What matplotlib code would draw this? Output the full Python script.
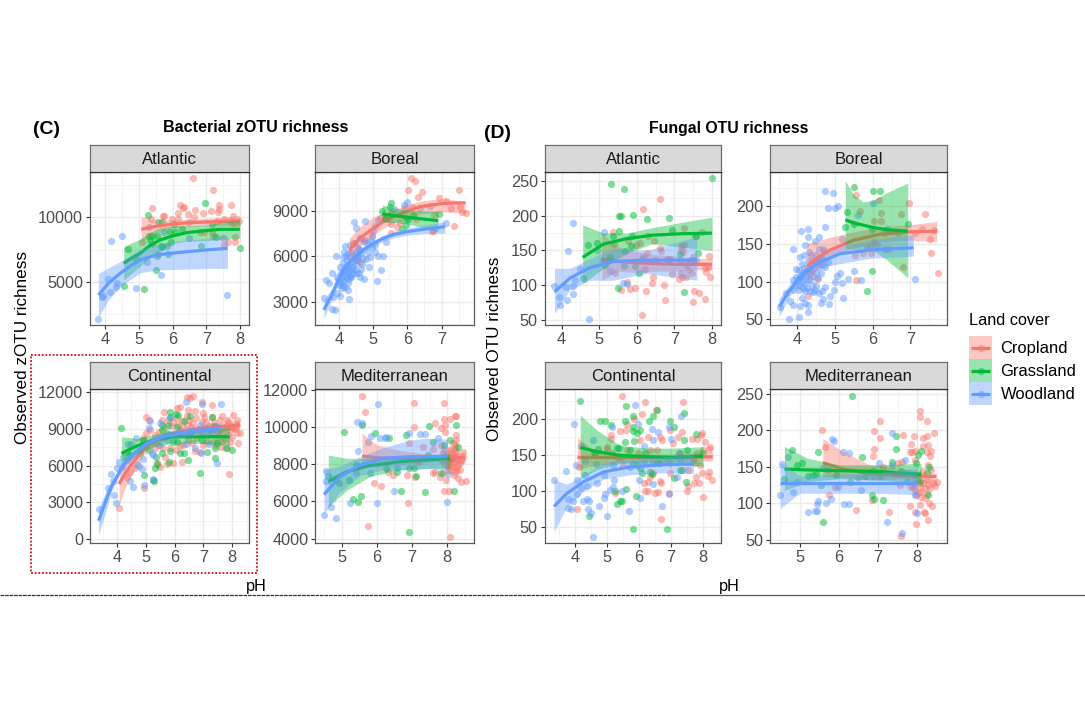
import matplotlib
matplotlib.use('Agg')
import matplotlib.pyplot as plt
from matplotlib.patches import Rectangle
from matplotlib.ticker import AutoMinorLocator

plt.rcParams['font.family'] = ['Liberation Sans', 'DejaVu Sans']

CROP = '#F8766D'
GRASS = '#00BA38'
WOOD = '#619CFF'

# points are (pH, richness), fits are (pH, fit, lower, upper)
c_atl_wood = [(3.8,2130),(3.92,3810),(3.95,3900),(4.13,4250),(4.09,5200),(4.34,4890),(4.31,4630),(4.17,8170),(4.49,8530),(4.93,4530),(5.24,6540),(5.3,9230),(5.65,5560),(5.74,8890),(6.49,8370),(7.63,4020)]
c_atl_grass = [(4.69,7520),(4.55,4710),(4.93,6750),(5.15,4480),(5.27,10150),(5.5,5900),(5.53,7000),(5.31,8560),(5.38,8560),(5.33,8250),(5.54,8530),(5.57,9660),(5.69,9640),(5.67,7780),(5.68,7700),(5.87,7190),(5.85,7760),(5.94,8120),(5.92,8860),(6.07,8840),(6.03,9480),(6.29,9100),(6.85,7760),(6.96,11080),(7.16,9510),(7.28,8480),(8.0,7650)]
c_atl_crop = [(6.62,13020),(7.19,12090),(5.39,10750),(5.08,8060),(5.36,9850),(5.75,10100),(5.72,10130),(5.98,9870),(6.22,10930),(6.3,10720),(6.34,10770),(6.17,10310),(6.16,9850),(6.45,10260),(6.66,10570),(6.64,10050),(6.49,9640),(6.89,10310),(7.14,10460),(7.39,10980),(7.38,10670),(7.34,10440),(7.73,10980),(7.8,10130),(7.52,9850),(7.31,9720),(7.7,9740),(7.98,9740),(7.8,9530),(7.16,8890),(7.19,8560),(6.81,8890),(6.92,8890),(7.5,8370),(7.85,8500),(7.85,8120),(7.65,8060),(7.52,7860),(5.57,7200),(5.4,7900)]
c_atl_crop_fit = [(5.07,9070,8100,10050),(5.5,9300,8800,9780),(6.0,9480,9150,9800),(6.5,9580,9300,9850),(7.0,9640,9350,9920),(7.5,9680,9350,10000),(8.0,9730,9300,10150)]
c_atl_grass_fit = [(4.55,6440,5150,7730),(4.8,6870,5700,8050),(5.03,7200,6200,8300),(5.3,7760,6800,8800),(5.62,8240,7350,9200),(6.0,8550,7990,9330),(6.41,8810,8150,9350),(7.0,8980,8190,9400),(7.4,9070,8300,9600),(8.0,9070,8370,9800)]
c_atl_wood_fit = [(3.8,3990,2300,5660),(4.1,4900,3600,6100),(4.44,5660,4630,6570),(4.75,6240,5200,7050),(5.03,6690,5700,7500),(5.35,6960,5850,7800),(5.72,7160,5950,8000),(6.42,7340,5990,8250),(7.0,7480,6050,8370),(7.63,7600,6050,8630)]

c_bor_wood = [(3.55,3240),(3.6,4430),(3.71,4210),(3.78,2510),(3.87,2450),(3.8,4870),(3.91,6020),(3.94,3600),(3.82,3330),(4.02,3380),(4.28,3200),(4.44,8270),(4.48,7870),(4.76,8360),(4.18,6680),(4.15,6310),(4.31,6750),(4.46,6860),(4.61,7190),(4.65,7190),(4.73,6970),(4.96,7300),(5.0,7680),(5.04,8030),(5.15,8430),(5.36,6970),(5.28,6040),(5.11,4390),(5.23,5070),(4.86,5270),(4.72,4520),(4.61,4650),(4.58,4870),(4.64,5140),(4.9,5980),(5.05,6310),(5.14,6040),(5.05,6750),(4.82,6970),(5.61,9110),(5.91,9400),(6.0,9620),(6.37,9180),(6.66,9330),(7.12,8210),
              (3.97,4430),(4.02,4210),(4.07,4650),(4.12,5090),(4.17,5320),(4.1,5540),(4.02,5320),(4.22,5760),(4.26,6200),(4.31,5980),(4.36,5540),(4.41,5320),(4.46,5090),(4.51,5760),(4.56,5980),(4.61,6420),(4.65,6200),(4.7,5870),(4.22,4650),(4.26,4210),(4.17,3990),(4.07,3880),(3.99,4100),(3.94,4650),(4.26,4870),(4.36,4650),(4.31,5320),(4.46,6200),(4.51,6640),(4.12,5980),
              (4.05,4900),(4.09,4350),(4.14,4750),(4.19,5050),(4.24,5450),(4.28,5100),(4.33,4700),(4.38,5100),(4.43,5700),(4.48,5500),(4.53,6100),(4.58,6500),(4.34,6300),(4.2,6000),(4.15,4400),(4.3,4500),(4.1,4000),(4.25,3800),(4.4,4800),(4.5,4900),(4.68,5500),(4.78,5800),(4.85,6300),(4.95,6600),(4.92,7000)]
c_bor_grass = [(5.26,9020),(5.52,9510),(5.5,9290),(5.34,8470),(5.36,8510),(5.85,7790),(5.97,8070),(6.02,8450),(6.17,8760),(6.92,8800),(5.97,8510)]
c_bor_crop = [(6.1,11160),(6.22,10990),(6.03,10390),(6.42,10260),(6.32,9950),(7.51,10410),(6.93,9840),(7.12,9660),(7.28,9180),(7.54,9290),(7.59,8910),(7.71,8870),(7.36,8030),(6.76,7700),(6.73,7680),(6.78,8740),(6.25,8470),(6.12,9290),(5.94,9180),(5.78,8180),(5.68,7920),(5.53,8140),(5.52,7520),(4.51,5760),(4.61,5650),(5.19,8510),(5.53,8850),(5.39,8560),(4.95,7410),(4.75,7080),(4.41,6860)]
c_bor_crop_fit = [(4.3,6400,5760,7190),(4.6,7200,6650,7950),(5.0,7850,7410,8620),(5.3,8300,7850,8850),(5.58,8620,8200,9050),(6.0,9000,8510,9400),(6.37,9290,8800,9650),(7.05,9500,8950,9840),(7.7,9550,8850,9620)]
c_bor_grass_fit = [(5.26,8800,8300,9400),(5.6,8700,8230,9230),(6.0,8580,8140,9070),(6.45,8470,7900,9000),(6.9,8360,7630,8960)]
c_bor_wood_fit = [(3.55,2450,1900,3100),(3.78,3440,3050,3850),(4.02,4650,4480,4820),(4.15,5170,5000,5340),(4.31,5650,5480,5820),(4.5,6060,5870,6250),(4.7,6420,6220,6620),(5.0,6850,6650,7050),(5.29,7190,7000,7380),(5.6,7440,7220,7650),(5.97,7630,7400,7850),(6.5,7800,7500,8080),(7.1,7960,7520,8290)]

c_con_wood = [(3.36,2440),(3.7,4140),(3.79,5310),(3.9,3600),(3.97,2920),(3.87,4740),(3.99,5820),(4.06,6310),(4.16,5900),(4.22,6720),(4.34,6450),(4.39,7750),(4.47,7750),(4.65,8230),(4.45,4740),(4.57,4250),(4.68,6120),(4.77,5980),(4.88,5710),(4.91,6530),(4.94,4410),(5.12,9020),(5.14,9620),(5.2,7000),(5.26,6850),(5.23,4880),(5.49,9430),(5.49,7670),(6.38,11130),(6.94,11000),(7.61,11030),(7.46,6180),(7.19,7770),(6.91,6990),(6.7,7390),(6.39,7750),(6.13,8610),(5.84,9890),(6.53,8750),(6.88,9290),(7.23,8880),(7.34,9020),(5.84,8480),(5.72,8070),(6.42,8480),(6.97,8750)]
c_con_grass = [(4.15,9050),(4.94,5230),(5.28,4770),(5.24,4840),(5.32,5770),(5.4,6120),(5.35,6660),(5.56,7040),(5.79,6260),(5.84,7180),(6.18,6990),(6.34,7040),(6.45,6450),(6.88,5360),(7.39,6580),(7.4,7390),(7.77,7390),(8.0,7230),(7.46,7800),(7.11,7120),(7.38,9210),(7.29,9970),(6.53,10020),(6.34,9620),(5.84,10370),(5.84,9970),(6.05,10160),(6.13,10100),(5.78,9290),(6.07,9150),(5.55,8880),(5.72,8610),(5.95,7940),(6.07,7940),(6.59,8800),(6.94,8070),(4.91,8070),(5.12,7260),(4.8,6990),(4.45,6850),(4.34,7120),(5.55,9290)]
c_con_crop = [(4.07,2520),(4.94,4200),(4.99,9970),(5.12,9700),(5.0,8610),(4.91,8210),(5.3,8480),(5.55,9700),(5.64,10370),(6.07,10650),(6.18,10750),(6.42,11590),(6.53,11510),(6.62,11650),(6.45,10510),(6.7,10430),(6.42,10020),(6.96,11130),(7.31,10940),(6.99,10240),(7.03,9970),(7.28,9970),(7.63,10020),(8.03,10100),(8.15,9700),(7.86,9510),(7.57,9700),(8.17,9290),(8.27,8610),(8.15,8610),(8.2,7800),(7.92,7940),(7.88,5280),(7.8,7390),(7.63,7940),(7.86,8480),(7.69,8750),(7.51,8340),(8.03,9020),(7.92,8880),(7.34,7940),(7.11,7940),(6.88,7120),(6.7,7180),(6.59,7800),(6.3,7670),(6.24,6310),(5.95,6180),(5.72,6120),(5.49,5900),(5.38,6180),(5.66,6720),(5.43,7670),(5.32,7390),(5.55,8210),(4.62,5770),(4.45,5500),(4.34,5090),(5.99,8480),(6.18,8880),(6.42,9290),(6.65,9430),(7.05,9020),(6.88,8610),(6.07,9830),(5.78,9700),
              (5.45,8750),(5.62,9150),(5.7,8400),(5.88,9250),(5.95,9550),(6.1,9300),(6.25,9650),(6.3,9050),(6.5,9700),(6.55,9150),(6.75,9900),(6.8,8950),(6.95,9550),(7.1,9500),(7.2,9250),(7.35,9500),(7.45,9250),(7.55,8900),(7.75,9150),(7.8,9700),(7.95,9200),(8.1,8950),(7.15,8500),(7.3,8650),(7.45,7650),(7.6,7500),(7.0,7700),(6.75,8250),(6.45,8150),(6.2,7600),(6.05,7250),(5.85,7450),(5.6,7400),(5.25,7950),(5.15,8900),(7.7,8150),(8.0,8350),(7.5,8700)]
c_con_crop_fit = [(4.07,4500,2790,5630),(4.3,5450,4300,6250),(4.57,6310,5500,6850),(4.9,7250,6800,7650),(5.26,7930,7550,8300),(5.6,8350,8050,8650),(6.07,8670,8370,8970),(7.0,9020,8720,9320),(7.6,9180,8800,9500),(8.25,9290,8880,9700)]
c_con_grass_fit = [(4.15,6990,5900,8340),(4.68,7580,6850,8200),(5.26,8070,7530,8530),(5.95,8340,7800,8800),(6.88,8340,7800,8880),(7.9,8340,7670,9150)]
c_con_wood_fit = [(3.36,1510,350,2520),(3.64,3330,2500,4050),(3.8,4270,3850,4700),(3.99,5090,4790,5390),(4.2,5950,5650,6250),(4.45,6720,6400,7020),(4.75,7300,7000,7600),(5.03,7800,7500,8100),(5.35,8130,7800,8450),(5.72,8420,8070,8770),(6.65,8800,8400,9150),(7.6,9020,8610,9430)]

c_med_wood = [(4.51,5290),(4.55,7660),(4.55,7120),(4.69,5720),(4.84,5130),(5.23,5920),(5.41,7550),(5.47,8720),(5.44,10300),(5.58,10200),(5.8,7510),(5.82,9520),(5.75,9220),(6.0,5920),(6.04,11230),(6.1,9400),(6.23,9430),(6.27,9490),(6.5,6550),(6.58,7780),(6.91,9700),(7.22,9630),(7.36,9630),(7.74,9400),(8.0,5990),(8.02,7480)]
c_med_grass = [(5.08,9720),(4.61,7390),(4.81,7190),(4.93,6980),(5.21,7170),(5.42,7960),(5.33,6130),(5.46,5970),(5.55,6300),(5.58,10130),(5.94,9670),(6.27,7780),(6.35,9430),(6.58,7600),(6.7,6580),(6.84,9580),(6.9,7820),(6.9,4340),(7.05,7820),(7.12,7390),(7.38,6490),(7.47,10060),(7.45,8500),(7.59,9220),(7.83,7510),(7.92,9040),(8.07,9310),(8.25,10120),(8.19,6550),(8.08,8320),(8.3,8910)]
c_med_crop = [(5.58,11680),(5.65,10820),(5.75,4700),(5.92,7010),(6.13,6850),(6.32,7600),(6.46,7410),(6.87,7440),(6.88,5900),(6.91,9130),(7.05,9990),(7.05,11280),(7.09,7330),(7.17,8110),(7.31,8910),(7.59,7550),(7.66,10240),(7.83,9970),(7.91,11280),(7.91,10420),(8.08,10440),(8.25,10620),(8.21,10620),(7.95,10120),(8.25,9580),(7.95,9720),(8.07,4070),(7.91,6560),(8.04,6560),(7.97,7160),(7.79,7330),(7.64,7570),(7.88,7510),(8.38,7070),(8.52,7080),(8.32,7280),(8.44,8680),(8.46,8380),(8.25,9310),(7.83,9040),(7.59,8810),(8.21,9040),
              (7.88,8590),(7.97,8410),(8.07,8230),(8.16,8050),(8.25,7870),(8.35,7690),(8.11,8770),(8.21,8590),(8.3,8410),(8.4,8230),(8.02,7870),(7.92,8050),(7.83,8230),(8.11,7690),(8.21,7600),(8.07,8770),(7.92,8770),(8.16,9130),(8.35,8050),(8.25,8230),(8.16,8410),(8.07,7960),(8.21,8860),
              (8.0,8500),(8.1,8350),(8.2,8150),(8.3,7950),(8.15,7850),(8.05,8050),(7.98,8250),(8.12,8600),(8.26,8700),(8.02,7700),(8.18,7450),(8.28,7700)]
c_med_crop_fit = [(5.58,8450,7950,9670),(6.0,8350,7850,9050),(6.5,8330,7950,8800),(7.0,8320,8020,8650),(7.5,8330,8120,8540),(8.0,8350,8220,8500),(8.5,8370,8020,8680)]
c_med_grass_fit = [(4.62,7070,5720,8500),(5.14,7600,6600,8320),(5.8,7930,7340,8320),(6.65,8140,7700,8400),(7.41,8230,7780,8500),(8.07,8320,7780,8590)]
c_med_wood_fit = [(4.5,6380,5360,7700),(4.95,7340,6500,7900),(5.52,7960,7400,8400),(6.18,8320,7700,8900),(6.93,8410,7700,9300),(7.4,8410,7780,9400),(8.0,8440,7700,9350)]

d_atl_wood = [(3.81,99),(3.94,83),(3.96,71),(4.12,97),(4.14,79),(4.3,99),(4.29,87),(4.35,108),(4.31,189),(4.18,149),(4.49,123),(4.73,51),(5.12,177),(4.93,150),(5.3,120),(5.64,103),(5.75,102),(6.14,138),(6.48,136),(6.86,136),(7.14,136),(7.5,136),(7.58,136)]
d_atl_grass = [(5.31,246),(5.67,238),(5.52,199),(5.58,199),(5.9,201),(5.54,178),(6.27,196),(6.85,197),(6.95,180),(7.99,254),(4.69,158),(4.95,160),(5.28,141),(5.27,136),(5.37,171),(5.15,129),(4.56,110),(5.5,96),(5.66,128),(5.68,149),(5.84,156),(5.88,171),(5.95,128),(6.06,117),(7.14,145),(7.26,90),(7.58,171),(7.64,146)]
d_atl_crop = [(6.61,224),(6.17,210),(5.37,177),(7.27,182),(7.73,177),(7.56,171),(5.11,136),(5.39,159),(5.42,118),(5.59,93),(5.81,94),(5.95,96),(5.73,105),(5.77,164),(5.99,158),(6.08,160),(6.26,146),(6.17,141),(6.21,123),(6.3,171),(6.46,163),(6.42,112),(6.41,103),(6.24,91),(6.15,57),(6.63,153),(6.65,149),(6.73,100),(6.75,79),(6.8,137),(6.88,137),(6.93,116),(7.12,109),(7.17,117),(7.19,156),(7.27,158),(7.19,150),(7.23,148),(7.21,111),(7.32,111),(7.36,122),(7.47,118),(7.5,141),(7.41,136),(7.32,131),(7.52,91),(7.65,89),(7.51,76),(7.82,80),(7.85,119),(7.89,126),(7.91,142),(7.96,111),(7.81,125)]
d_atl_crop_fit = [(5.07,137,107,175),(5.5,134,120,155),(6.0,132,118,148),(6.5,131,120,144),(7.0,130,120,142),(7.5,130,122,139),(8.0,130,122,138)]
d_atl_grass_fit = [(4.56,140,102,187),(5.11,159,124,175),(5.73,167,146,175),(6.43,172,160,183),(7.14,174,155,190),(8.0,175,150,198)]
d_atl_wood_fit = [(3.81,90,59,124),(4.22,110,93,124),(4.75,125,107,138),(5.37,134,107,153),(6.26,136,117,150),(7.6,136,107,170)]

d_bor_wood = [(3.54,66),(3.78,51),(4.04,53),(4.27,60),(3.7,85),(3.81,74),(3.87,69),(4.07,68),(3.89,143),(4.1,167),(4.27,170),(4.27,159),(4.2,148),(4.73,220),(4.95,218),(4.8,198),(5.0,198),(5.09,200),(4.73,173),(4.58,159),(4.47,154),(4.56,144),(4.67,143),(5.18,156),(4.07,133),(4.18,135),(4.32,140),(4.62,133),(4.71,141),(3.96,117),(4.04,115),(4.12,124),(4.25,115),(4.34,111),(4.42,129),(4.5,126),(4.56,120),(4.73,120),(4.82,126),(3.89,102),(3.98,96),(4.03,104),(4.12,100),(4.2,98),(4.29,102),(4.38,96),(4.47,89),(4.56,85),(4.65,87),(4.73,93),(4.87,81),(4.96,89),(4.62,71),(4.69,77),(4.85,70),(5.22,78),(4.2,72),(4.29,69),(4.12,78),(5.0,99),(5.04,107),(5.13,111),(5.18,98),(5.35,103),(5.49,114),(5.69,102),(6.02,204),(5.62,189),(6.37,170),(6.68,164),(7.12,104),(4.12,111),(4.03,89),(3.89,89),(4.2,87),(4.38,115),
              (4.08,106),(4.16,107),(4.24,108),(4.33,104),(4.42,108),(4.5,112),(4.55,105),(4.62,112),(4.68,122),(4.36,122),(4.28,128),(4.18,118),(4.08,94),(4.26,91),(4.34,88),(4.42,86),(4.5,94),(4.15,92),(3.95,106),(4.36,135),(4.5,135),(4.6,128)]
d_bor_grass = [(5.5,226),(6.02,220),(6.19,220),(5.32,193),(5.27,172),(5.51,177),(5.99,170),(6.93,176),(5.99,114),(5.84,87)]
d_bor_crop = [(5.55,215),(6.17,209),(6.95,204),(5.66,194),(6.21,191),(6.21,181),(6.04,180),(6.75,190),(7.38,190),(7.3,170),(7.63,169),(7.12,165),(7.52,156),(7.54,138),(7.72,112),(6.8,119),(5.56,102),(5.53,135),(5.73,138),(5.84,146),(5.93,147),(5.96,138),(6.04,153),(6.12,148),(6.33,143),(6.43,144),(6.31,164),(4.51,104),(4.29,81)]
d_bor_crop_fit = [(4.25,120,102,151),(4.55,132,117,154),(4.87,142,131,159),(5.49,155,144,166),(6.19,163,153,173),(6.9,166,155,175),(7.7,167,153,180)]
d_bor_grass_fit = [(5.27,182,144,234),(5.5,178,143,215),(5.75,175,143,206),(6.0,172,142,208),(6.37,169,129,218),(6.93,167,105,231)]
d_bor_wood_fit = [(3.52,67,54,78),(3.8,89,81,97),(4.16,111,105,117),(4.6,126,119,133),(5.13,137,124,147),(5.93,142,131,155),(7.08,145,134,162)]

d_con_wood = [(3.34,116),(3.72,128),(3.78,77),(3.86,76),(3.79,90),(3.95,87),(3.98,194),(4.02,136),(4.05,116),(4.05,96),(4.19,163),(4.19,105),(4.31,142),(4.36,107),(4.31,123),(4.26,86),(4.36,90),(4.45,86),(4.39,75),(4.49,70),(4.57,171),(4.65,138),(4.68,111),(4.76,80),(4.55,37),(4.89,91),(4.94,96),(4.91,122),(5.0,66),(5.09,102),(5.2,136),(5.22,116),(5.2,106),(5.15,190),(5.46,100),(5.67,73),(5.88,220),(5.96,194),(5.99,116),(6.03,91),(6.14,163),(6.39,186),(6.58,183),(6.42,171),(6.42,110),(6.71,80),(6.92,96),(6.95,190),(7.0,173),(7.18,120),(7.32,205),(7.26,153),(7.28,144),(6.14,139),(5.72,134),(6.86,144)]
d_con_grass = [(4.16,225),(5.58,219),(5.8,205),(4.78,197),(4.94,197),(5.11,192),(4.72,159),(4.63,152),(4.58,153),(4.42,66),(5.25,100),(5.32,82),(5.41,86),(5.46,87),(5.58,103),(5.82,47),(5.89,94),(6.86,47),(5.3,160),(5.38,160),(5.56,197),(5.56,169),(5.72,157),(5.8,190),(5.82,184),(5.93,181),(6.03,185),(5.84,170),(5.8,138),(5.93,137),(6.03,132),(6.09,126),(6.34,127),(6.4,124),(6.19,153),(6.32,198),(6.45,205),(6.55,213),(6.6,139),(6.97,197),(7.09,189),(7.39,209),(7.39,171),(7.28,129),(7.33,129),(7.46,113),(7.09,118),(7.77,179),(7.51,157),(7.99,153)]
d_con_crop = [(5.46,232),(6.18,224),(7.37,224),(6.53,213),(6.1,208),(5.84,201),(5.61,194),(5.41,184),(5.59,185),(5.13,178),(5.13,173),(4.99,162),(4.99,159),(4.13,134),(4.07,75),(5.25,97),(6.19,100),(6.27,100),(6.5,98),(6.58,99),(6.68,62),(6.92,97),(6.66,115),(6.69,111),(6.14,111),(6.29,113),(6.34,120),(6.45,126),(6.97,185),(7.33,183),(7.23,175),(7.65,172),(7.82,172),(7.96,181),(7.94,178),(8.06,169),(8.22,162),(8.2,159),(8.29,116),(8.17,127),(8.15,121),(7.98,126),(7.99,92),(7.88,111),(7.73,111),(7.78,120),(7.51,100),(7.54,107),(7.54,130),(7.7,144),(7.8,153),(8.01,157),(7.28,153),(6.97,139),(6.97,125),(7.07,167),(6.71,171),(6.55,157),(6.34,157),(6.03,171),(5.98,153),(5.61,157),(5.46,148),(5.35,146),(5.15,153),(6.29,176),(6.66,176),(6.66,139),(6.45,139),(5.51,137),(7.91,137),(7.75,139)]
d_con_crop_fit = [(4.07,147,130,175),(4.5,147,135,160),(5.5,147,140,152),(7.0,147,142,152),(8.3,148,142,155)]
d_con_grass_fit = [(4.16,161,118,206),(4.68,155,130,185),(5.41,150,139,164),(6.24,148,139,160),(7.07,147,137,160),(7.99,149,135,162)]
d_con_wood_fit = [(3.34,79,44,116),(3.74,97,78,110),(4.26,113,100,122),(4.89,127,117,140),(5.72,134,123,145),(6.76,137,126,148),(7.7,138,125,152)]

d_med_wood = [(4.5,112),(4.54,154),(4.69,163),(4.84,116),(4.92,129),(5.22,89),(5.39,90),(5.45,90),(5.43,99),(5.47,103),(5.67,101),(5.79,106),(5.82,188),(5.88,186),(5.59,148),(5.73,146),(5.99,122),(6.1,170),(6.27,169),(6.13,99),(6.25,99),(6.5,135),(6.57,119),(7.03,155),(7.22,75),(7.36,196),(7.37,153),(7.68,159),(7.62,59),(7.73,129),(7.94,112),(7.99,87),(6.88,138)]
d_med_grass = [(4.61,134),(4.81,173),(4.92,153),(5.06,156),(5.2,138),(5.33,139),(5.42,141),(5.46,170),(5.54,126),(5.59,75),(5.94,139),(6.28,130),(6.34,247),(6.58,163),(6.68,137),(6.84,112),(6.9,106),(7.05,138),(7.13,105),(6.88,145),(7.37,157),(7.46,175),(7.47,192),(7.6,145),(7.94,139),(8.02,167),(8.09,172),(7.98,155),(8.08,131),(8.27,112),(8.3,150),(8.25,142)]
d_med_crop = [(5.58,201),(5.65,177),(5.76,111),(5.9,122),(6.45,91),(6.85,105),(6.86,165),(6.89,175),(6.91,199),(7.05,190),(7.04,213),(7.13,150),(7.29,89),(7.56,126),(7.51,156),(7.64,194),(7.62,157),(7.81,96),(7.59,55),(7.97,72),(7.91,192),(7.85,181),(7.81,171),(7.88,171),(7.94,160),(7.94,172),(8.08,227),(8.08,219),(8.24,213),(8.44,197),(8.15,190),(8.24,192),(8.14,179),(8.28,180),(8.24,171),(8.36,172),(8.32,165),(8.28,153),(8.36,146),(8.51,129),(8.45,124),(8.3,100),(8.38,96),(8.08,98),(7.94,89),(8.17,88),(8.21,87),(8.28,77),(7.85,123),(7.9,123),(7.94,118),(8.02,114),(8.11,109),(8.19,107),(8.24,114),(8.32,121),(8.41,128),(8.07,128),(8.15,128),(8.15,144),(8.24,134),(8.07,123),(8.19,121),(7.98,112),(8.11,116),(7.94,128),(8.28,125)]
d_med_crop_fit = [(5.59,156,137,189),(6.11,147,135,171),(6.79,141,132,153),(7.64,138,134,148),(8.49,137,125,141)]
d_med_grass_fit = [(4.61,147,118,178),(5.2,146,130,162),(6.0,145,134,153),(7.0,144,132,153),(8.1,140,128,155)]
d_med_wood_fit = [(4.5,128,93,157),(5.0,128,114,138),(5.8,128,114,140),(7.0,128,114,142),(8.0,128,112,149)]

# pixel box of each panel and its axis limits
W, H = 1085, 705
panels = [
    ('Atlantic', (90, 171.7, 249, 325), (3.55, 8.27), (1677, 13524), [4, 5, 6, 7, 8], [5000, 10000],
     c_atl_crop, c_atl_grass, c_atl_wood, c_atl_crop_fit, c_atl_grass_fit, c_atl_wood_fit),
    ('Boreal', (315.3, 171.7, 474.3, 325), (3.30, 7.96), (1450, 11603), [4, 5, 6, 7], [3000, 6000, 9000],
     c_bor_crop, c_bor_grass, c_bor_wood, c_bor_crop_fit, c_bor_grass_fit, c_bor_wood_fit),
    ('Continental', (90, 389.3, 249, 543.3), (3.06, 8.58), (-325, 12195), [4, 5, 6, 7, 8], [0, 3000, 6000, 9000, 12000],
     c_con_crop, c_con_grass, c_con_wood, c_con_crop_fit, c_con_grass_fit, c_con_wood_fit),
    ('Mediterranean', (315.3, 389.3, 474.3, 542.7), (4.25, 8.77), (3785, 12032), [5, 6, 7, 8], [4000, 6000, 8000, 10000, 12000],
     c_med_crop, c_med_grass, c_med_wood, c_med_crop_fit, c_med_grass_fit, c_med_wood_fit),
    ('Atlantic', (544.7, 171.7, 721.3, 325), (3.55, 8.25), (42.4, 263.6), [4, 5, 6, 7, 8], [50, 100, 150, 200, 250],
     d_atl_crop, d_atl_grass, d_atl_wood, d_atl_crop_fit, d_atl_grass_fit, d_atl_wood_fit),
    ('Boreal', (770.3, 171.7, 947.3, 325), (3.28, 7.98), (42.4, 246), [4, 5, 6, 7], [50, 100, 150, 200],
     d_bor_crop, d_bor_grass, d_bor_wood, d_bor_crop_fit, d_bor_grass_fit, d_bor_wood_fit),
    ('Continental', (544.7, 389.3, 721.3, 543), (3.05, 8.57), (28.2, 241.7), [4, 5, 6, 7, 8], [50, 100, 150, 200],
     d_con_crop, d_con_grass, d_con_wood, d_con_crop_fit, d_con_grass_fit, d_con_wood_fit),
    ('Mediterranean', (770.3, 389.3, 947.3, 543), (4.25, 8.77), (45.9, 256.4), [5, 6, 7, 8], [50, 100, 150, 200, 250],
     d_med_crop, d_med_grass, d_med_wood, d_med_crop_fit, d_med_grass_fit, d_med_wood_fit),
]


def add_box(x0, y0, x1, y1):
    return fig.add_axes([x0 / W, 1 - y1 / H, (x1 - x0) / W, (y1 - y0) / H])


def draw_fit(ax, fit, color, z):
    # each group's ribbon goes over the lines of the groups before it
    x = [row[0] for row in fit]
    ax.fill_between(x, [row[2] for row in fit], [row[3] for row in fit],
                    color=color, alpha=0.4, lw=0, zorder=z)
    ax.plot(x, [row[1] for row in fit], color=color, lw=2.3, zorder=z + 0.5, solid_capstyle='butt')


fig = plt.figure(figsize=(W / 100, H / 100), dpi=100)

for name, box, xlim, ylim, xticks, yticks, crop, grass, wood, crop_fit, grass_fit, wood_fit in panels:
    ax = add_box(*box)
    ax.set_xlim(*xlim)
    ax.set_ylim(*ylim)
    ax.set_xticks(xticks)
    ax.set_yticks(yticks)
    ax.xaxis.set_minor_locator(AutoMinorLocator(2))
    ax.yaxis.set_minor_locator(AutoMinorLocator(2))
    ax.grid(which='major', color='#EBEBEB', lw=1.0, zorder=0)
    ax.grid(which='minor', color='#F2F2F2', lw=0.6, zorder=0)
    ax.set_axisbelow(True)
    ax.tick_params(which='major', length=3, width=0.8, color='#333333', labelcolor='#4D4D4D',
                   labelsize=11.7, pad=2)
    ax.tick_params(which='minor', length=0)
    for s in ax.spines.values():
        s.set_color('#5A5A5A')
        s.set_linewidth(0.9)

    for pts, color in [(crop, CROP), (grass, GRASS), (wood, WOOD)]:
        ax.scatter([p[0] for p in pts], [p[1] for p in pts], s=27, color=color, alpha=0.5, lw=0, zorder=2)
    for i, (fit, color) in enumerate([(crop_fit, CROP), (grass_fit, GRASS), (wood_fit, WOOD)]):
        draw_fit(ax, fit, color, 3 + i)

    strip = add_box(box[0], box[1] - 27, box[2], box[1])
    strip.set_facecolor('#D9D9D9')
    strip.set_xticks([])
    strip.set_yticks([])
    for s in strip.spines.values():
        s.set_color('#6E6E6E')
        s.set_linewidth(0.9)
    strip.spines['bottom'].set_color('#333333')
    strip.text(0.5, 0.47, name, transform=strip.transAxes, ha='center', va='center',
               fontsize=12, color='#1A1A1A')

# overlay in pixel units for titles, labels, legend and the frame lines
over = fig.add_axes([0, 0, 1, 1], zorder=10)
over.set_xlim(0, W)
over.set_ylim(H, 0)
over.axis('off')

over.text(33, 130, '(C)', fontsize=14, fontweight='bold', ha='left', va='center')
over.text(484, 133, '(D)', fontsize=14, fontweight='bold', ha='left', va='center')
over.text(256, 128, 'Bacterial zOTU richness', fontsize=11.6, fontweight='bold', ha='center', va='center')
over.text(729, 128, 'Fungal OTU richness', fontsize=11.4, fontweight='bold', ha='center', va='center')
over.text(23, 347, 'Observed zOTU richness', fontsize=12.3, rotation=90, ha='center', va='center')
over.text(494.5, 349, 'Observed OTU richness', fontsize=12.3, rotation=90, ha='center', va='center')
over.text(256, 586.5, 'pH', fontsize=11.7, ha='center', va='center')
over.text(729, 586.5, 'pH', fontsize=11.7, ha='center', va='center')

over.add_patch(Rectangle((30.7, 355), 226.6, 218.3, fill=False, ec='#D01020', lw=1.3, ls=(0, (1, 1))))
over.plot([0, 670], [595, 595], color='#333333', lw=0.9, ls=(0, (3, 0.6)))
over.plot([670, W], [595, 595], color='#555555', lw=0.9)

# legend keys
over.text(969, 320.5, 'Land cover', fontsize=11.7, ha='left', va='center')
for i, (label, color) in enumerate([('Cropland', CROP), ('Grassland', GRASS), ('Woodland', WOOD)]):
    y0 = 336 + i * 23
    over.add_patch(Rectangle((969, y0), 23, 23, fc=color, alpha=0.4, lw=0))
    over.plot([971, 990], [y0 + 11.5, y0 + 11.5], color=color, lw=2.3, solid_capstyle='butt')
    over.scatter([980.5], [y0 + 11.5], s=27, color=color, alpha=0.5, lw=0)
    over.text(1000.5, y0 + 12.5, label, fontsize=11.9, ha='left', va='center')

fig.savefig('out.png', dpi=100)
